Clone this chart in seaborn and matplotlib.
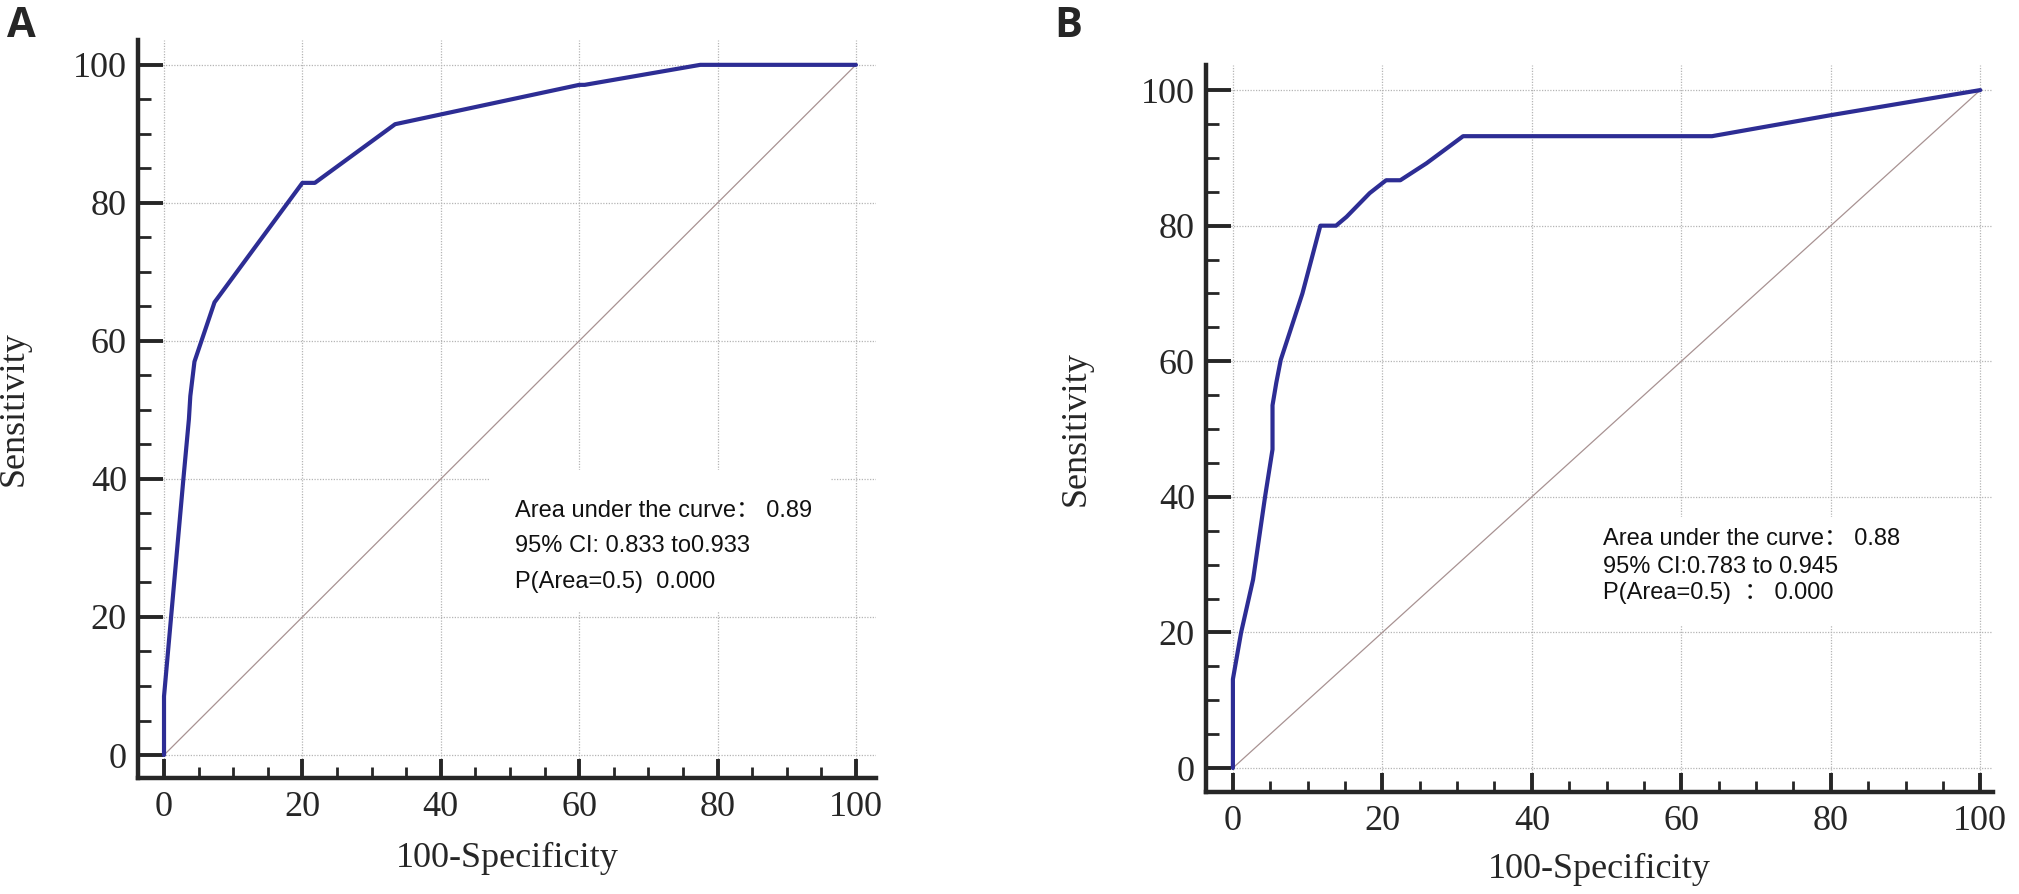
import numpy as np
import pandas as pd
import seaborn as sns
import matplotlib.pyplot as plt
from matplotlib.ticker import MultipleLocator
from matplotlib.patches import Rectangle

# ROC curve A (100-specificity, sensitivity)
fpr_a = [0, 0, 2.8, 3.6, 3.8, 4.4, 7.3, 20.0, 21.8, 33.4, 60.0, 60.8, 77.5, 100]
tpr_a = [0, 8.5, 40.0, 48.7, 52.0, 57.0, 65.6, 82.9, 82.9, 91.4, 97.1, 97.1, 100, 100]

# ROC curve B
fpr_b = [0, 0, 1.1, 2.7, 4.3, 5.3, 5.3, 5.8, 6.4, 8.0, 9.3, 10.6, 11.7, 13.8,
         15.2, 18.3, 20.5, 22.4, 25.9, 28.6, 30.8, 64.1, 80.0, 100]
tpr_b = [0, 13.1, 20.0, 27.8, 40.0, 47.0, 53.5, 56.8, 60.2, 65.6, 70.0, 75.4, 80.0, 80.0,
         81.3, 84.8, 86.7, 86.7, 89.2, 91.4, 93.2, 93.2, 96.3, 100]

# chance line
diag_x = [0, 100]
diag_y = [0, 100]

text_a = ["Area under the curve\uff1a 0.89",
          "95% CI: 0.833 to0.933",
          "P(Area=0.5)  0.000"]
text_b = ["Area under the curve\uff1a 0.88",
          "95% CI:0.783 to 0.945",
          "P(Area=0.5)  \uff1a 0.000"]

sns.set_theme(style="white")
plt.rcParams['font.family'] = ['Liberation Serif', 'DejaVu Serif']

W, H = 2019, 894
fig = plt.figure(figsize=(W / 100, H / 100), dpi=100)

curve_col = '#2d2d94'
diag_col = '#a89292'
spine_col = '#262626'


def px(l, t, r, b):
    # pixel box -> figure fraction
    return [l / W, 1 - b / H, (r - l) / W, (b - t) / H]


def style_axes(ax, xlim, ylim, fs):
    ax.set_xlim(*xlim)
    ax.set_ylim(*ylim)
    ax.xaxis.set_major_locator(MultipleLocator(20))
    ax.yaxis.set_major_locator(MultipleLocator(20))
    ax.xaxis.set_minor_locator(MultipleLocator(5))
    ax.yaxis.set_minor_locator(MultipleLocator(5))
    for s in ['top', 'right']:
        ax.spines[s].set_visible(False)
    for s in ['left', 'bottom']:
        ax.spines[s].set_linewidth(3.2)
        ax.spines[s].set_color(spine_col)
    ax.tick_params(which='both', bottom=True, left=True, top=False, right=False)
    ax.tick_params(axis='y', which='major', direction='in', length=18, width=2.8,
                   color=spine_col, labelsize=fs, pad=8)
    ax.tick_params(axis='y', which='minor', direction='in', length=9, width=2.0,
                   color=spine_col)
    ax.tick_params(axis='x', which='major', direction='in', length=14, width=2.8,
                   color=spine_col, labelsize=fs, pad=9)
    ax.tick_params(axis='x', which='minor', direction='in', length=8, width=2.0,
                   color=spine_col)
    ax.grid(True, which='major', linestyle=(0, (1, 1.2)), color='#b5b5b5', lw=0.9)
    ax.set_axisbelow(True)
    ax.set_xlabel("100-Specificity", fontsize=fs)
    ax.set_ylabel("Sensitivity", fontsize=fs)


# ---- panel A ----
axA = fig.add_axes(px(138, 40, 876, 778))
style_axes(axA, (-3.76, 102.9), (-3.33, 103.6), 26)
sns.lineplot(x=diag_x, y=diag_y, ax=axA, color=diag_col, lw=0.9, zorder=2)
sns.lineplot(x=fpr_a, y=tpr_a, ax=axA, color=curve_col, lw=3.0, sort=False,
             estimator=None, zorder=3)
axA.xaxis.set_label_coords(0.5, -0.087)
axA.yaxis.set_label_coords(-0.145, 0.5)
axA.add_patch(Rectangle((47, 20.7), 49.2, 20.6, facecolor='white', edgecolor='none', zorder=1))
for line, yv in zip(text_a, [34.5, 29.4, 24.2]):
    axA.text(50.7, yv, line, fontsize=17, va='baseline', ha='left', color='#111111',
             family=['Liberation Sans', 'Noto Sans CJK SC'], zorder=4)

# ---- panel B ----
axB = fig.add_axes(px(1206, 65, 1993, 792))
style_axes(axB, (-3.6, 101.7), (-3.54, 103.7), 26)
sns.lineplot(x=diag_x, y=diag_y, ax=axB, color=diag_col, lw=0.9, zorder=2)
sns.lineplot(x=fpr_b, y=tpr_b, ax=axB, color=curve_col, lw=3.0, sort=False,
             estimator=None, zorder=3)
axB.xaxis.set_label_coords(0.5, -0.084)
axB.yaxis.set_label_coords(-0.1436, 0.5)
axB.add_patch(Rectangle((47.8, 21.1), 49.5, 15.9, facecolor='white', edgecolor='none', zorder=1))
for line, yv in zip(text_b, [32.9, 28.8, 24.9]):
    axB.text(49.5, yv, line, fontsize=17, va='baseline', ha='left', color='#111111',
             family=['Liberation Sans', 'Noto Sans CJK SC'], zorder=4)

# panel letters
fig.text(7 / W, 1 - 37 / H, "A", fontsize=30, fontweight='bold',
         family=['Open Sans', 'DejaVu Sans'], va='baseline', ha='left')
fig.text(1054 / W, 1 - 37 / H, "B", fontsize=30, fontweight='bold',
         family=['Open Sans', 'DejaVu Sans'], va='baseline', ha='left')

fig.savefig("out.png", dpi=100, facecolor='white')
